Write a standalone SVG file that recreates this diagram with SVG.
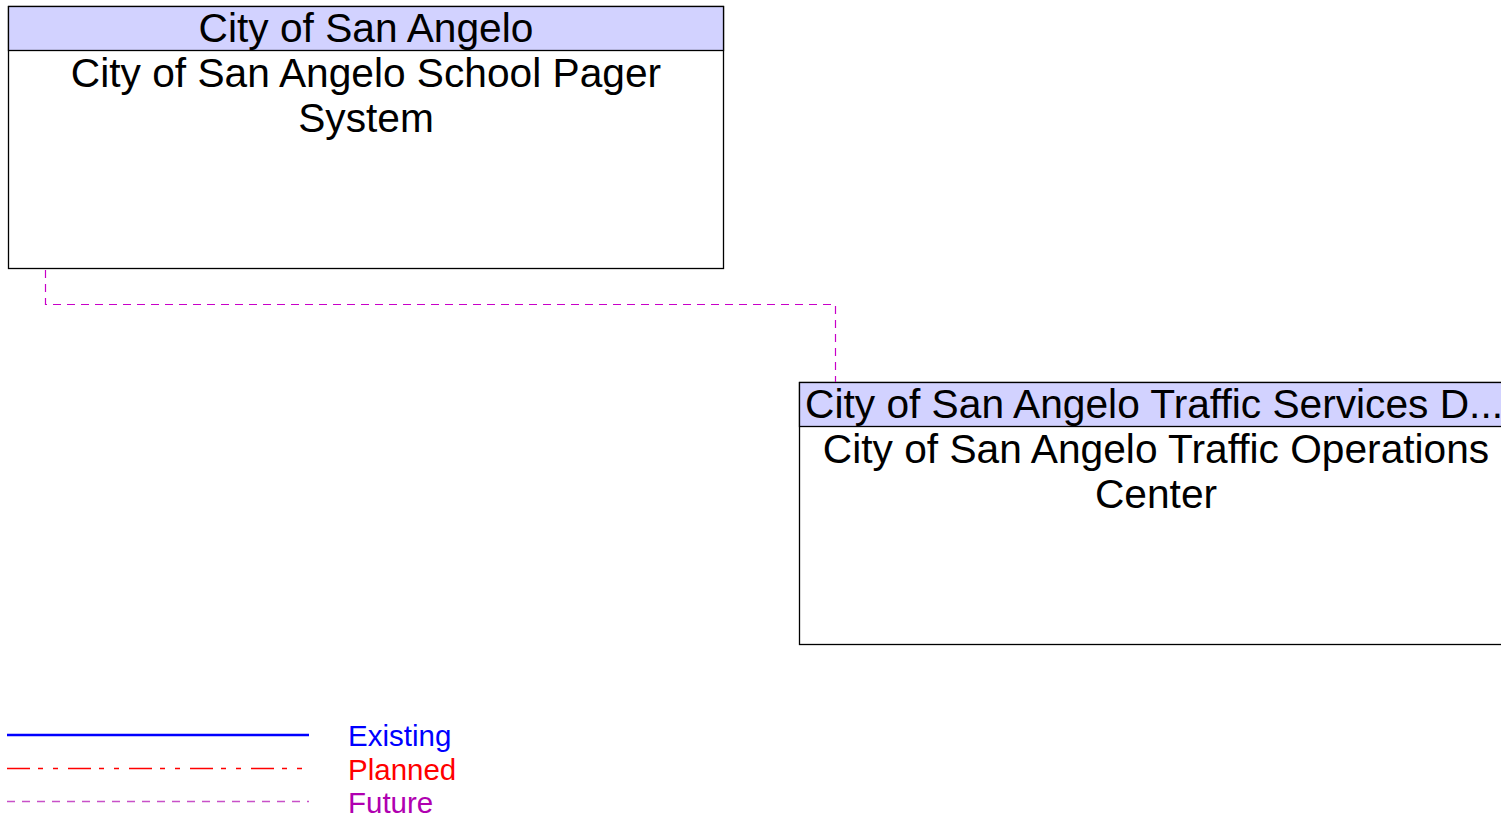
<svg xmlns="http://www.w3.org/2000/svg" width="1501" height="819" viewBox="0 0 1501 819">
<style>
.box{fill:#fff;stroke:#000;stroke-width:1.3}
.hdr{fill:#d2d2ff;stroke:#000;stroke-width:1.3}
.t{font-family:"Liberation Sans",Arial,sans-serif;font-size:40.7px;fill:#000;text-anchor:middle}
.lg{font-family:"Liberation Sans",Arial,sans-serif;font-size:29.5px}
.future{fill:none;stroke:#c800c8;stroke-width:1.2;stroke-dasharray:8,6}
</style>
<rect width="1501" height="819" fill="#fff"/>
<g id="node-pager">
<rect class="box" x="8.5" y="6.5" width="715" height="262"/>
<rect class="hdr" x="8.5" y="6.5" width="715" height="44"/>
<text class="t" x="366" y="42">City of San Angelo</text>
<text class="t" x="366" y="87">City of San Angelo School Pager</text>
<text class="t" x="366" y="132">System</text>
</g>
<g id="node-toc">
<rect class="box" x="799.5" y="382.5" width="715" height="262"/>
<rect class="hdr" x="799.5" y="382.5" width="715" height="44"/>
<text class="t" x="805" y="418" style="text-anchor:start">City of San Angelo Traffic Services D...</text>
<text class="t" x="1156" y="463">City of San Angelo Traffic Operations</text>
<text class="t" x="1156" y="508">Center</text>
</g>
<g id="connectors">
<polyline class="future" points="45.5,270 45.5,304.5 835.5,304.5 835.5,382"/>
</g>
<g id="legend">
<line x1="7" y1="735" x2="309" y2="735" stroke="#0000ff" stroke-width="2.5"/>
<line x1="7" y1="768.5" x2="309" y2="768.5" stroke="#ff0000" stroke-width="1.3" stroke-dasharray="23,8,5,10,5,10"/>
<line x1="7" y1="801.5" x2="309" y2="801.5" stroke="#c850c8" stroke-width="1.6" stroke-dasharray="8,7"/>
<text class="lg" x="348" y="746" fill="#0000ff">Existing</text>
<text class="lg" x="348" y="780" fill="#ff0000">Planned</text>
<text class="lg" x="348" y="813" fill="#b000b0">Future</text>
</g>
</svg>
